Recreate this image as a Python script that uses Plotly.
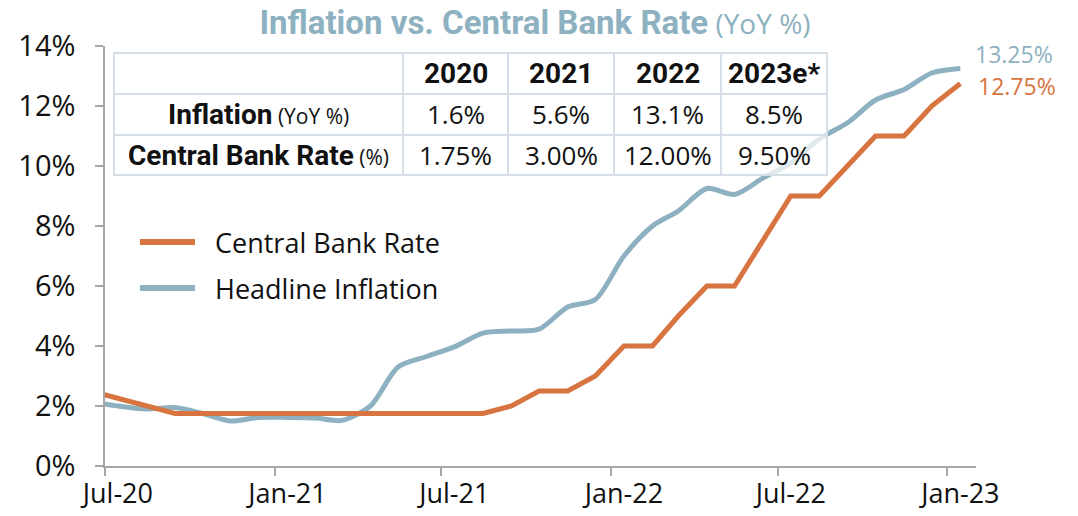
import plotly.graph_objects as go

# ---------------- data ----------------
months = [
    "2020-06-15", "2020-07-15", "2020-08-15", "2020-09-15", "2020-10-15", "2020-11-15",
    "2020-12-15", "2021-01-15", "2021-02-15", "2021-03-15", "2021-04-15", "2021-05-15",
    "2021-06-15", "2021-07-15", "2021-08-15", "2021-09-15", "2021-10-15", "2021-11-15",
    "2021-12-15", "2022-01-15", "2022-02-15", "2022-03-15", "2022-04-15", "2022-05-15",
    "2022-06-15", "2022-07-15", "2022-08-15", "2022-09-15", "2022-10-15", "2022-11-15",
    "2022-12-15", "2023-01-15",
]
central_bank_rate = [
    2.5, 2.25, 2.0, 1.75, 1.75, 1.75,
    1.75, 1.75, 1.75, 1.75, 1.75, 1.75,
    1.75, 1.75, 1.75, 2.0, 2.5, 2.5,
    3.0, 4.0, 4.0, 5.0, 6.0, 6.0,
    7.5, 9.0, 9.0, 10.0, 11.0, 11.0,
    12.0, 12.75,
]
headline_inflation = [
    2.15, 2.0, 1.9, 1.95, 1.75, 1.5,
    1.62, 1.62, 1.6, 1.52, 2.0, 3.3,
    3.65, 3.97, 4.43, 4.5, 4.56, 5.3,
    5.55, 7.0, 8.0, 8.5, 9.25, 9.05,
    9.6, 10.1, 10.9, 11.45, 12.2, 12.55,
    13.1, 13.25,
]
tick_dates = ["2020-07-15", "2021-01-15", "2021-07-15", "2022-01-15", "2022-07-15", "2023-01-15"]
tick_labels = ["Jul-20", "Jan-21", "Jul-21", "Jan-22", "Jul-22", "Jan-23"]

table_years = ["2020", "2021", "2022", "2023e*"]
table_inflation = ["1.6%", "5.6%", "13.1%", "8.5%"]
table_rate = ["1.75%", "3.00%", "12.00%", "9.50%"]
row_names = ["Inflation", "Central Bank Rate"]
row_units = ["(YoY %)", "(%)"]

# ---------------- style ----------------
ORANGE = "#D8743F"
BLUE = "#8DB1C0"
AXIS = "#A6A6A6"
GRID_BORDER = "#D5DDE7"
BOLD_FONT = "Roboto, Arial, sans-serif"
FONT = "Open Sans, Arial, sans-serif"
INK = "#111111"

W, H = 1078, 516
PL, PR, PT, PB = 105, 976, 46, 466     # plot area in page pixels
L, T = PL, PT
R, B = W - PR, H - PB
PW, PH = PR - PL, PB - PT


def px(xp):
    return (xp - PL) / PW


def py(yp):
    return (PB - yp) / PH


fig = go.Figure()
fig.add_trace(go.Scatter(
    x=months, y=headline_inflation, mode="lines", name="Headline Inflation",
    line=dict(color=BLUE, width=5, shape="spline", smoothing=0.8), showlegend=False,
))
fig.add_trace(go.Scatter(
    x=months, y=central_bank_rate, mode="lines", name="Central Bank Rate",
    line=dict(color=ORANGE, width=5), showlegend=False,
))

shapes = []
annotations = []

# end labels
annotations.append(dict(x=months[-1], y=headline_inflation[-1], xref="x", yref="y",
                        text="13.25%", showarrow=False, xanchor="left", yanchor="middle",
                        xshift=14, yshift=15, borderpad=0,
                        font=dict(family=FONT, size=23, color=BLUE)))
annotations.append(dict(x=months[-1], y=central_bank_rate[-1], xref="x", yref="y",
                        text="12.75%", showarrow=False, xanchor="left", yanchor="middle",
                        xshift=17, yshift=-2, borderpad=0,
                        font=dict(family=FONT, size=23, color=ORANGE)))

# manual legend
legend_items = [("Central Bank Rate", ORANGE, 242), ("Headline Inflation", BLUE, 288)]
for name, col, yy in legend_items:
    shapes.append(dict(type="line", xref="paper", yref="paper", x0=px(140), x1=px(195),
                       y0=py(yy), y1=py(yy), line=dict(color=col, width=6), layer="above"))
    annotations.append(dict(x=px(213), y=py(yy), xref="paper", yref="paper", text=name,
                            showarrow=False, xanchor="left", yanchor="middle",
                            font=dict(family=FONT, size=27, color=INK)))

# table
col_edges = [114, 403, 508, 614, 721, 827]
row_edges = [53, 94, 135, 175]
shapes.append(dict(type="rect", xref="paper", yref="paper",
                   x0=px(col_edges[0]), x1=px(col_edges[-1]),
                   y0=py(row_edges[-1]), y1=py(row_edges[0]),
                   fillcolor="rgba(255,255,255,0.72)", line=dict(color=GRID_BORDER, width=2),
                   layer="above"))
for cx in col_edges[1:-1]:
    shapes.append(dict(type="line", xref="paper", yref="paper", x0=px(cx), x1=px(cx),
                       y0=py(row_edges[-1]), y1=py(row_edges[0]),
                       line=dict(color=GRID_BORDER, width=2), layer="above"))
for ry in row_edges[1:-1]:
    shapes.append(dict(type="line", xref="paper", yref="paper", x0=px(col_edges[0]),
                       x1=px(col_edges[-1]), y0=py(ry), y1=py(ry),
                       line=dict(color=GRID_BORDER, width=2), layer="above"))


def cell(ci, ri, text, family, size):
    xc = (col_edges[ci] + col_edges[ci + 1]) / 2
    yc = (row_edges[ri] + row_edges[ri + 1]) / 2
    annotations.append(dict(x=px(xc), y=py(yc), xref="paper", yref="paper", text=text,
                            showarrow=False, xanchor="center", yanchor="middle",
                            font=dict(family=family, size=size, color=INK)))


for i, yv in enumerate(table_years):
    cell(i + 1, 0, f"<b>{yv}</b>", BOLD_FONT, 28)
for i, v in enumerate(table_inflation):
    cell(i + 1, 1, v, FONT, 26)
for i, v in enumerate(table_rate):
    cell(i + 1, 2, v, FONT, 26)
for r, (nm, un) in enumerate(zip(row_names, row_units)):
    cell(0, r + 1,
         f"<b>{nm}</b><span style='font-family:Open Sans;font-size:21px'> {un}</span>",
         BOLD_FONT, 28)

fig.update_layout(
    width=W, height=H,
    margin=dict(l=L, r=R, t=T, b=B, autoexpand=False),
    paper_bgcolor="white", plot_bgcolor="white",
    title=dict(
        text="<b>Inflation vs. Central Bank Rate</b>"
             "<span style='font-family:Open Sans;font-size:28px'> (YoY %)</span>",
        x=535 / W, xanchor="center", y=1 - 22 / H, yanchor="middle",
        yref="container", font=dict(family=BOLD_FONT, size=33, color=BLUE),
    ),
    shapes=shapes,
    annotations=annotations,
    showlegend=False,
)
fig.update_xaxes(
    type="date", range=["2020-07-01", "2023-02-01"], automargin=False,
    tickmode="array", tickvals=tick_dates, ticktext=tick_labels,
    ticks="", ticklabelstandoff=3,
    tickfont=dict(family=FONT, size=27, color=INK),
    showline=True, linecolor=AXIS, linewidth=1.5, showgrid=False, zeroline=False,
    minor=dict(ticks="outside", ticklen=8, tickcolor=AXIS, tickwidth=1.5,
               tick0="2020-07-01", dtick="M6", showgrid=False),
)
fig.update_yaxes(
    range=[0, 14], dtick=2, ticksuffix="%", automargin=False,
    ticks="outside", ticklen=8, tickcolor=AXIS, tickwidth=1.5, ticklabelstandoff=14,
    tickfont=dict(family=FONT, size=29, color=INK),
    showline=True, linecolor=AXIS, linewidth=1.5, showgrid=False, zeroline=False,
)

# remove the default 8px page margin so the figure fills the window exactly
fig.write_html("out.html", config={"displayModeBar": False},
               post_script="document.body.style.margin='0px';")
